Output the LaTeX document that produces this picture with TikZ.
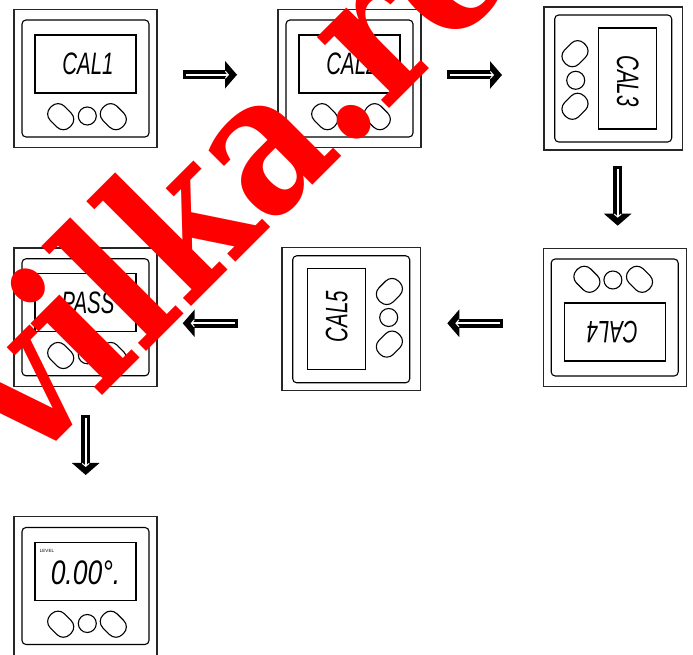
\documentclass[tikz,border=0pt]{standalone}
\usepackage{fontspec}
\setmainfont{Liberation Sans}
\newfontfamily\wmfont{DejaVu Serif}[BoldFont={DejaVu Serif Bold}]
\usetikzlibrary{arrows.meta}
\tikzset{
  x=1pt,y=1pt,
  devline/.style={draw=black,line width=1.1pt},
  outerbox/.style={draw=black!85,line width=1.2pt,minimum width=143pt,minimum height=138.5pt,inner sep=0pt},
  innerbox/.style={devline,rounded corners=4pt,minimum width=127pt,minimum height=117pt,inner sep=0pt},
  screenbox/.style={devline,minimum width=101pt,minimum height=58pt,inner sep=0pt},
  oblong/.style={devline,rounded corners=9pt,minimum width=27.5pt,minimum height=20pt,inner sep=0pt,rotate=-45},
  roundbtn/.style={devline,circle,minimum size=18pt,inner sep=0pt},
  lcd/.style={inner sep=0pt,font=\itshape\fontsize{31}{31}\selectfont,xscale=.66},
  flow/.style={black,line width=9pt,-{Triangle[length=12pt,width=27pt]}},
  flowin/.style={white,line width=1.6pt,-{Straight Barb[length=3pt,width=7pt,line width=1pt]}},
  wm/.style={red,inner sep=0pt,anchor=base west,rotate=45,xscale=.85,font=\wmfont\bfseries\fontsize{195}{195}\selectfont}
}
% name, centre x, centre y (from the top), rotation, text
\newcommand\device[5]{%
  \begin{scope}[shift={(#2,655-#3)},rotate=#4,transform shape]
    \node[outerbox] (#1) at (0,0) {};
    \node[innerbox] (#1in) at (0,0) {};
    \node[screenbox] (#1sc) at (0,14.5) {};
    \node[oblong] (#1a) at (-24.8,-38.2) {};
    \node[roundbtn] (#1b) at (1.8,-37.5) {};
    \node[oblong] (#1c) at (27.8,-38.2) {};
    #5
  \end{scope}}
\newcommand\lcdtext[2]{\node[lcd] (#1) at (2.5,14.5) {#2};}
\begin{document}
\begin{tikzpicture}
\useasboundingbox (0,0) rectangle (693,655);
\clip (0,0) rectangle (693,655);
\device{d1}{85.5}{78.5}{0}{\lcdtext{t1}{CAL1}}
\device{d2}{349.5}{78.5}{0}{\lcdtext{t2}{CAL2}}
\device{d3}{613.2}{78.5}{-90}{\lcdtext{t3}{CAL3}}
\device{d4}{614.7}{317.5}{180}{\lcdtext{t4}{CAL4}}
\device{d5}{351.2}{319.3}{90}{\lcdtext{t5}{CAL5}}
\device{d6}{85.5}{317.3}{0}{\lcdtext{t6}{PASS}}
\device{d7}{85.5}{586}{0}{%
  \node[lcd,font=\itshape\fontsize{34}{34}\selectfont,xscale=1.18] (t7) at (0,13) {0.00°.};
  \node[inner sep=0pt,font=\fontsize{4.5}{5}\selectfont] (t7b) at (-38.5,35.5) {LEVEL};}
% connectors
\foreach \n/\ax/\ay/\bx/\by in {a1/183/580.25/237/580.25,a2/447.3/580/502/580,a3/617.7/489/617.7/429.3,a4/238/331.7/182.7/331.7,a5/502.7/331.7/447.3/331.7,a6/85.7/240/85.7/180}{
  \coordinate (\n s) at (\ax,\ay);
  \coordinate (\n e) at (\bx,\by);
  \draw[flow] (\n s) -- (\n e);
  \draw[flowin,shorten <=3pt,shorten >=8pt] (\n s) -- (\n e);
}
\node[wm] (mark) at (30,187) {vilka.re};
\end{tikzpicture}
\end{document}
